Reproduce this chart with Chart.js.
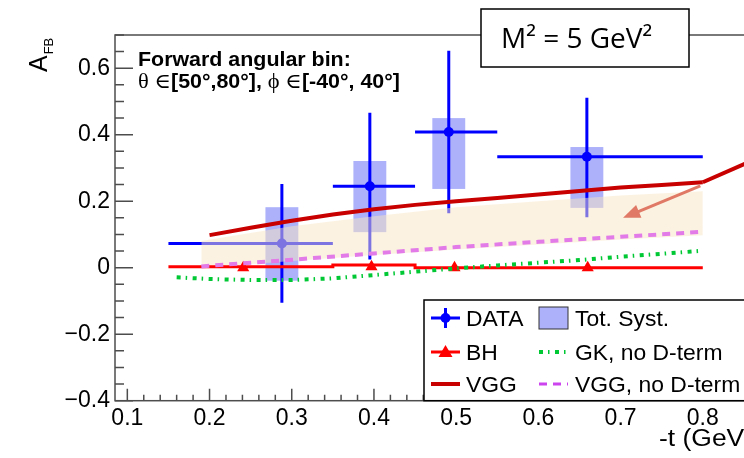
<!DOCTYPE html>
<html>
<head>
<meta charset="utf-8">
<script src="https://cdn.jsdelivr.net/npm/chart.js@4.4.1/dist/chart.umd.min.js"></script>
<style>
  html, body { margin: 0; padding: 0; background: #fff; overflow: hidden; }
  #wrap { width: 800px; height: 458px; }
</style>
</head>
<body>
<div id="wrap"><canvas id="afb" width="800" height="458"></canvas></div>
<script>
// measured points, -t bins
const dataT = [0.288, 0.395, 0.491, 0.659];
const dataAfb = [0.073, 0.245, 0.408, 0.334];
const dataTLow = [0.15, 0.35, 0.45, 0.55];
const dataTHigh = [0.35, 0.45, 0.55, 0.80];
const dataAfbLow = [-0.105, 0.025, 0.164, 0.152];
const dataAfbHigh = [0.252, 0.466, 0.653, 0.511];
// total systematics boxes
const systLow = [-0.039, 0.107, 0.237, 0.180];
const systHigh = [0.182, 0.321, 0.450, 0.363];
const systHalfWidth = 0.02;

// Bethe-Heitler
const bhT = [0.15, 0.35, 0.35, 0.45, 0.45, 0.80];
const bhAfb = [0.003, 0.003, 0.008, 0.008, 0.0, 0.0];
const bhMarkT = [0.241, 0.397, 0.498, 0.660];
const bhMarkAfb = [0.0, 0.003, 0.0, 0.0];

// VGG
const vggT = [0.20, 0.25, 0.30, 0.35, 0.40, 0.45, 0.50, 0.55, 0.60, 0.65, 0.70, 0.75, 0.80];
const vggAfb = [0.098, 0.120, 0.141, 0.160, 0.176, 0.189, 0.200, 0.210, 0.220, 0.231, 0.241, 0.249, 0.257];

// VGG, no D-term
const vggNoDT = [0.19, 0.30, 0.40, 0.50, 0.60, 0.70, 0.80];
const vggNoDAfb = [0.004, 0.024, 0.043, 0.062, 0.078, 0.093, 0.108];

// GK, no D-term
const gkT = [0.16, 0.20, 0.25, 0.30, 0.35, 0.40, 0.45, 0.50, 0.55, 0.60, 0.65, 0.70, 0.75, 0.80];
const gkAfb = [-0.029, -0.034, -0.037, -0.037, -0.032, -0.022, -0.012, -0.002, 0.007, 0.015, 0.023, 0.033, 0.042, 0.051];

// shaded model band
const bandT = [0.19, 0.30, 0.40, 0.50, 0.60, 0.70, 0.80];
const bandHigh = [0.080, 0.125, 0.155, 0.182, 0.200, 0.217, 0.230];
const bandLow = [0.000, 0.020, 0.038, 0.055, 0.070, 0.085, 0.098];

// annotation lines
const markLineT = [0.800, 0.860];
const markLineAfb = [0.257, 0.322];
const arrowT = [0.797, 0.703];
const arrowAfb = [0.246, 0.150];

const xTicks = [0.1, 0.2, 0.3, 0.4, 0.5, 0.6, 0.7, 0.8];
const yTicks = [-0.4, -0.2, 0, 0.2, 0.4, 0.6];

const legendLabels = ['DATA', 'Tot. Syst.', 'BH', 'GK, no D-term', 'VGG', 'VGG, no D-term'];

const BLUE = '#0000ff';
const SYST = 'rgba(90,100,245,0.5)';
const BAND = 'rgba(250,230,195,0.5)';
const VGG_RED = '#c80000';
const BH_RED = '#ff0000';
const GREEN = '#00c834';
const VIOLET = '#e27ae8';
const SANS = '"Liberation Sans", Arial, Helvetica, sans-serif';
const SERIF = '"Liberation Serif", "DejaVu Serif", serif';
const GK_DASH = [4, 5, 1.5, 5.5];
const VGG_DASH = [8, 6];

const xy = (xs, ys) => xs.map((v, i) => ({x: v, y: ys[i]}));

// text a little wider than the font, like the original
function wideText(ctx, s, x, y, sx) {
  ctx.save();
  ctx.translate(x, y);
  ctx.scale(sx, 1);
  ctx.fillText(s, 0, 0);
  ctx.restore();
  return ctx.measureText(s).width * sx;
}

const errorBars = {
  id: 'errorBars',
  beforeDatasetsDraw(chart) {
    const {ctx, scales: {x, y}} = chart;
    ctx.save();
    ctx.fillStyle = SYST;
    dataT.forEach((t, i) => {
      const x0 = x.getPixelForValue(t - systHalfWidth), x1 = x.getPixelForValue(t + systHalfWidth);
      const y0 = y.getPixelForValue(systHigh[i]), y1 = y.getPixelForValue(systLow[i]);
      ctx.fillRect(x0, y0, x1 - x0, y1 - y0);
    });
    ctx.strokeStyle = BLUE;
    ctx.lineWidth = 3;
    dataT.forEach((t, i) => {
      const px = x.getPixelForValue(t), py = y.getPixelForValue(dataAfb[i]);
      ctx.beginPath();
      ctx.moveTo(x.getPixelForValue(dataTLow[i]), py);
      ctx.lineTo(x.getPixelForValue(dataTHigh[i]), py);
      ctx.moveTo(px, y.getPixelForValue(dataAfbHigh[i]));
      ctx.lineTo(px, y.getPixelForValue(dataAfbLow[i]));
      ctx.stroke();
    });
    ctx.restore();
  }
};

const decorations = {
  id: 'decorations',
  afterDatasetsDraw(chart) {
    const {ctx, scales: {x, y}} = chart;
    ctx.save();
    // dark red pointer line
    ctx.strokeStyle = VGG_RED;
    ctx.lineWidth = 4;
    ctx.beginPath();
    ctx.moveTo(x.getPixelForValue(markLineT[0]), y.getPixelForValue(markLineAfb[0]));
    ctx.lineTo(x.getPixelForValue(markLineT[1]), y.getPixelForValue(markLineAfb[1]));
    ctx.stroke();
    // salmon arrow
    const ax0 = x.getPixelForValue(arrowT[0]), ay0 = y.getPixelForValue(arrowAfb[0]);
    const ax1 = x.getPixelForValue(arrowT[1]), ay1 = y.getPixelForValue(arrowAfb[1]);
    const ang = Math.atan2(ay1 - ay0, ax1 - ax0);
    ctx.strokeStyle = '#e07a66';
    ctx.fillStyle = '#e07a66';
    ctx.lineWidth = 3;
    ctx.beginPath();
    ctx.moveTo(ax0, ay0);
    ctx.lineTo(ax1 - 12 * Math.cos(ang), ay1 - 12 * Math.sin(ang));
    ctx.stroke();
    ctx.beginPath();
    ctx.moveTo(ax1, ay1);
    ctx.lineTo(ax1 - 17 * Math.cos(ang) + 7 * Math.sin(ang), ay1 - 17 * Math.sin(ang) - 7 * Math.cos(ang));
    ctx.lineTo(ax1 - 17 * Math.cos(ang) - 7 * Math.sin(ang), ay1 - 17 * Math.sin(ang) + 7 * Math.cos(ang));
    ctx.closePath();
    ctx.fill();
    ctx.restore();
  },
  afterDraw(chart) {
    const {ctx, chartArea: a, scales: {x, y}} = chart;
    ctx.save();
    // frame
    ctx.strokeStyle = '#4d4d4d';
    ctx.lineWidth = 1.5;
    ctx.strokeRect(a.left, a.top, a.right - a.left, a.bottom - a.top);
    ctx.beginPath();
    for (let k = -8; k <= 14; k++) {
      const py = y.getPixelForValue(k * 0.05);
      ctx.moveTo(a.left, py);
      ctx.lineTo(a.left + (k % 4 === 0 ? 18 : 9), py);
    }
    for (let k = 5; k <= 42; k++) {
      const px = x.getPixelForValue(k * 0.02);
      ctx.moveTo(px, a.bottom);
      ctx.lineTo(px, a.bottom - (k % 5 === 0 ? 12 : 6));
    }
    ctx.stroke();

    // axis titles
    ctx.fillStyle = '#000';
    ctx.font = '23px ' + SANS;
    ctx.textAlign = 'left';
    ctx.textBaseline = 'alphabetic';
    wideText(ctx, '-t (GeV\u00b2)', 659, 446, 1.15);
    ctx.save();
    ctx.translate(47, 72);
    ctx.rotate(-Math.PI / 2);
    ctx.font = '25px ' + SANS;
    ctx.fillText('A', 0, 0);
    const aw = ctx.measureText('A').width;
    ctx.font = '13px ' + SANS;
    ctx.fillText('FB', aw + 1, 6);
    ctx.restore();

    // bin label
    ctx.font = 'bold 20px ' + SANS;
    wideText(ctx, 'Forward angular bin:', 138, 66, 1.07);
    let cx = 138;
    const parts = [
      ['\u03b8 \u2208', '21px ' + SERIF],
      ['[50\u00b0,80\u00b0], ', 'bold 20px ' + SANS],
      ['\u03d5 \u2208', '21px ' + SERIF],
      ['[-40\u00b0, 40\u00b0]', 'bold 20px ' + SANS]
    ];
    parts.forEach(([s, f]) => {
      ctx.font = f;
      cx += wideText(ctx, s, cx, 88, 1.07);
    });

    // M^2 box
    ctx.fillStyle = '#fff';
    ctx.fillRect(481, 9, 208, 58);
    ctx.strokeStyle = '#000';
    ctx.lineWidth = 1.5;
    ctx.strokeRect(481, 9, 208, 58);
    ctx.fillStyle = '#000';
    ctx.font = '28px "Open Sans", "Noto Sans", sans-serif';
    ctx.fillText('M\u00b2 = 5 GeV\u00b2', 501, 48);

    // legend
    const lx = 424, ly = 300, lw = 340, lh = a.bottom - 300;
    ctx.fillStyle = '#fff';
    ctx.fillRect(lx, ly, lw, lh);
    ctx.strokeStyle = '#000';
    ctx.lineWidth = 1.5;
    ctx.strokeRect(lx, ly, lw, lh);
    const rows = [318, 352, 384];
    const c1 = [431, 460], c2 = [539, 568];
    // DATA
    ctx.strokeStyle = BLUE; ctx.fillStyle = BLUE; ctx.lineWidth = 3;
    ctx.beginPath();
    ctx.moveTo(c1[0], rows[0]); ctx.lineTo(c1[1], rows[0]);
    ctx.moveTo((c1[0] + c1[1]) / 2, rows[0] - 10); ctx.lineTo((c1[0] + c1[1]) / 2, rows[0] + 10);
    ctx.stroke();
    ctx.beginPath(); ctx.arc((c1[0] + c1[1]) / 2, rows[0], 5, 0, 2 * Math.PI); ctx.fill();
    // Tot. Syst.
    ctx.fillStyle = SYST;
    ctx.fillRect(c2[0], 307, c2[1] - c2[0], 22);
    ctx.strokeStyle = '#333'; ctx.lineWidth = 1;
    ctx.strokeRect(c2[0], 307, c2[1] - c2[0], 22);
    // BH
    ctx.strokeStyle = BH_RED; ctx.fillStyle = BH_RED; ctx.lineWidth = 3;
    ctx.beginPath(); ctx.moveTo(c1[0], rows[1]); ctx.lineTo(c1[1], rows[1]); ctx.stroke();
    const tc = (c1[0] + c1[1]) / 2;
    ctx.beginPath();
    ctx.moveTo(tc, rows[1] - 7); ctx.lineTo(tc + 7, rows[1] + 5); ctx.lineTo(tc - 7, rows[1] + 5);
    ctx.closePath(); ctx.fill();
    // GK
    ctx.strokeStyle = GREEN; ctx.lineWidth = 4; ctx.setLineDash(GK_DASH);
    ctx.beginPath(); ctx.moveTo(c2[0], rows[1]); ctx.lineTo(c2[1], rows[1]); ctx.stroke();
    // VGG
    ctx.setLineDash([]);
    ctx.strokeStyle = VGG_RED; ctx.lineWidth = 4;
    ctx.beginPath(); ctx.moveTo(c1[0], rows[2]); ctx.lineTo(c1[1], rows[2]); ctx.stroke();
    // VGG no D
    ctx.strokeStyle = '#cc44ee'; ctx.lineWidth = 3; ctx.setLineDash(VGG_DASH);
    ctx.beginPath(); ctx.moveTo(c2[0], rows[2]); ctx.lineTo(c2[1], rows[2]); ctx.stroke();
    ctx.setLineDash([]);

    ctx.fillStyle = '#000';
    ctx.font = '22px ' + SANS;
    legendLabels.forEach((lab, i) => {
      const col = i % 2, row = Math.floor(i / 2);
      wideText(ctx, lab, col === 0 ? 466 : 575, rows[row] + 8, 1.04);
    });
    ctx.restore();
  }
};

const lineDs = (label, xs, ys, color, width, dash, order) => ({
  label, data: xy(xs, ys), borderColor: color, borderWidth: width, borderDash: dash,
  pointRadius: 0, fill: false, tension: 0, order
});

new Chart(document.getElementById('afb'), {
  type: 'line',
  data: {
    datasets: [
      lineDs('VGG', vggT, vggAfb, VGG_RED, 4, [], 0),
      lineDs('VGG, no D-term', vggNoDT, vggNoDAfb, VIOLET, 4, VGG_DASH, 0),
      lineDs('GK, no D-term', gkT, gkAfb, GREEN, 4, GK_DASH, 0),
      lineDs('BH', bhT, bhAfb, BH_RED, 3, [], 0),
      {
        label: 'BH points', data: xy(bhMarkT, bhMarkAfb), showLine: false,
        pointStyle: 'triangle', pointRadius: 7, backgroundColor: BH_RED, borderColor: BH_RED,
        borderWidth: 0, order: 0
      },
      {
        label: 'band high', data: xy(bandT, bandHigh), borderWidth: 0, pointRadius: 0,
        backgroundColor: BAND, fill: '+1', order: 1
      },
      {
        label: 'band low', data: xy(bandT, bandLow), borderWidth: 0, pointRadius: 0,
        fill: false, order: 1
      },
      {
        label: 'DATA', data: xy(dataT, dataAfb), showLine: false, pointStyle: 'circle',
        pointRadius: 5, backgroundColor: BLUE, borderColor: BLUE, borderWidth: 0, order: 2
      }
    ]
  },
  options: {
    responsive: false,
    animation: false,
    devicePixelRatio: 1,
    layout: { padding: { left: 0, top: 35, right: 52, bottom: 0 } },
    plugins: { legend: { display: false }, tooltip: { enabled: false } },
    scales: {
      x: {
        type: 'linear', min: 0.085, max: 0.855,
        grid: { display: false, drawTicks: false }, border: { display: false },
        afterBuildTicks: s => { s.ticks = xTicks.map(v => ({value: v})); },
        afterFit: s => { s.height = 57.3; },
        ticks: {
          autoSkip: false, maxRotation: 0, padding: 4, color: '#000',
          font: { family: SANS, size: 23 },
          callback: v => v.toFixed(1)
        }
      },
      y: {
        min: -0.4, max: 0.7,
        grid: { display: false, drawTicks: false }, border: { display: false },
        afterBuildTicks: s => { s.ticks = yTicks.map(v => ({value: v})); },
        afterFit: s => { s.width = 115; },
        ticks: {
          padding: 5, color: '#000',
          font: { family: SANS, size: 23 },
          callback: v => v === 0 ? '0' : (v < 0 ? '\u2212' + Math.abs(v).toFixed(1) : v.toFixed(1))
        }
      }
    }
  },
  plugins: [errorBars, decorations]
});
</script>
</body>
</html>
